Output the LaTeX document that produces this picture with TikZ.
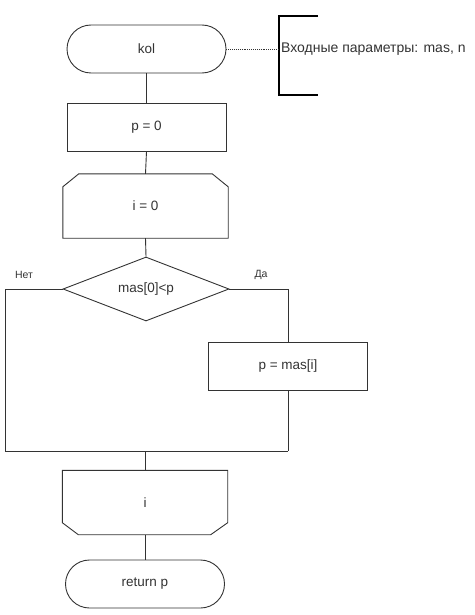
\documentclass[tikz,border=0pt]{standalone}
\usepackage{fontspec}
\setmainfont{Liberation Sans}
\usetikzlibrary{shapes.geometric}
\definecolor{ln}{HTML}{333333}
\tikzset{
  x=1pt,y=-1pt,
  every node/.style={text=ln},
  conn/.style={draw=ln,line width=0.9pt},
  term/.style={draw=ln,line width=0.9pt,rectangle,rounded corners=24pt,minimum width=159pt,minimum height=48pt,font=\fontsize{13.5}{16}\selectfont},
  proc/.style={draw=ln,line width=0.9pt,rectangle,minimum width=159pt,minimum height=48pt,font=\fontsize{13.5}{16}\selectfont},
  hexbox/.style={rectangle,minimum width=165pt,minimum height=64pt,inner sep=0pt,font=\fontsize{13.5}{16}\selectfont},
  dec/.style={draw=ln,line width=0.9pt,diamond,aspect=2.6,inner sep=0pt,minimum width=166pt,minimum height=64pt,font=\fontsize{13.5}{16}\selectfont},
  small/.style={font=\fontsize{10.5}{12}\selectfont},
}
\begin{document}
\begin{tikzpicture}
\useasboundingbox (0,0) rectangle (474,615);
\node[term] (kol) at (146.5,49) {kol};
\node[proc] (p0) at (146.5,127) {p = 0};
\node[hexbox] (i0) at (145.5,206) {i = 0};
\draw[conn] ([xshift=16pt]i0.north west) -- ([xshift=-16pt]i0.north east) -- ([yshift=-13pt]i0.north east) -- (i0.south east) -- (i0.south west) -- ([yshift=-13pt]i0.north west) -- cycle;
\node[dec] (cond) at (146,289) {mas[0]<p};
\node[proc] (pm) at (288,366) {p = mas[i]};
\node[hexbox] (loop) at (145,502.5) {i};
\draw[conn] (loop.north west) -- (loop.north east) -- ([yshift=12pt]loop.south east) -- ([xshift=-17pt]loop.south east) -- ([xshift=16pt]loop.south west) -- ([yshift=12pt]loop.south west) -- cycle;
\node[term] (ret) at (145,584) {return p};
\node[small] (no) at (24,275) {Нет};
\node[small] (yes) at (261,275) {Да};
% comment
\coordinate (brk) at (279,49);
\coordinate (bt) at (318,16);
\coordinate (bb) at (318,95);
\draw[black,line width=1.8pt] (bt) -- (279,16) -- (279,95) -- (bb);
\node[anchor=west,inner sep=0pt,font=\fontsize{14}{16}\selectfont] (cmt) at (281,49) {Входные параметры: mas, n};
\draw[ln,line width=0.9pt,densely dotted] (kol.east) -- (brk);
% connectors
\coordinate (bl) at (5,451);
\coordinate (br) at (288,451);
\coordinate (m) at (145,451);
\draw[conn] (kol.south) -- (p0.north);
\draw[conn] (p0.south) -- (i0.north);
\draw[conn] (i0.south) -- (cond.north);
\draw[conn] (cond.west) -| (bl) -- (br);
\draw[conn] (cond.east) -| (pm.north);
\draw[conn] (pm.south) -- (br);
\draw[conn] (m) -- (loop.north);
\draw[conn] (loop.south) -- (ret.north);
\end{tikzpicture}
\end{document}
